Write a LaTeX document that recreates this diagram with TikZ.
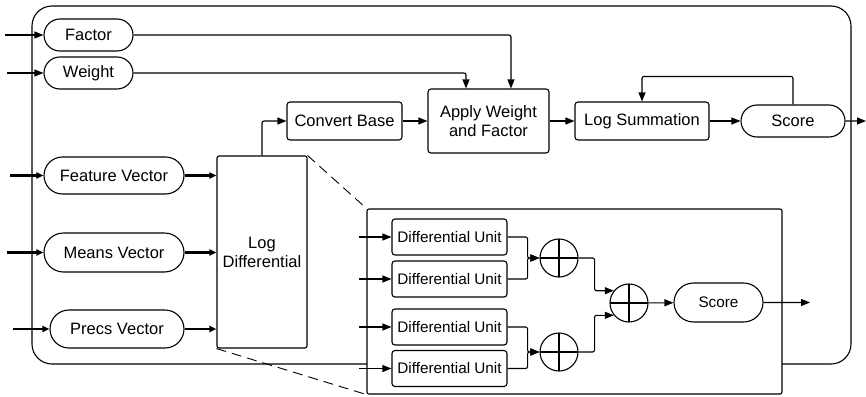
\documentclass[tikz,border=0pt]{standalone}
\usepackage{fontspec}
\setmainfont{Liberation Sans}
\usetikzlibrary{arrows.meta,shapes.misc,calc}
\tikzset{
	pill/.style={draw, rounded rectangle, inner sep=0pt, font=\fontsize{16.5}{19}\selectfont},
	blk/.style={draw, rectangle, rounded corners=3pt, inner sep=0pt, align=center, font=\fontsize{16.5}{19}\selectfont},
	unit/.style={blk, minimum width=115pt, minimum height=36pt, font=\fontsize{15.3}{18}\selectfont},
	adder/.style={draw, circle, minimum size=38pt, inner sep=0pt,
		path picture={\draw (path picture bounding box.north) -- (path picture bounding box.south)
			(path picture bounding box.west) -- (path picture bounding box.east);}},
	wire/.style={draw, line width=1.1pt, rounded corners=2pt, -{Triangle[length=9pt,width=7pt]}},
	fat/.style={wire, line width=2.4pt, -{Triangle[length=7pt,width=6pt]}}
}
\begin{document}
\begin{tikzpicture}[x=1pt, y=-1pt, line width=1.1pt]
			%%%%% START %%%%%
			\useasboundingbox (0,0) rectangle (866,396);
			
			\draw[rounded corners=20pt] (32,6) rectangle (851,364);
			
			% inputs
			\node[pill, minimum width=89pt, minimum height=32pt] (factor) at (88.5,35) {Factor};
			\node[pill, minimum width=89pt, minimum height=32pt] (weight) at (88.5,73) {Weight};
			\node[pill, minimum width=140pt, minimum height=37pt] (feat) at (114,175.5) {Feature Vector};
			\node[pill, minimum width=140pt, minimum height=39pt] (means) at (114,252.5) {Means Vector};
			\node[pill, minimum width=134pt, minimum height=38pt] (precs) at (117,329) {Precs Vector};
			
			\coordinate (inF) at (5,35);
			\coordinate (inW) at (7,73);
			\coordinate (inV) at (10,175.5);
			\coordinate (inM) at (7,252.5);
			\coordinate (inP) at (13,329);
			
			% main chain
			\node[blk, rounded corners=2pt, minimum width=90pt, minimum height=192pt] (logdiff) at (262,252) {Log\\Differential};
			\node[blk, minimum width=115pt, minimum height=38pt] (conv) at (344.5,121) {Convert Base};
			\node[blk, minimum width=121pt, minimum height=64pt] (apply) at (488.5,121) {Apply Weight\\and Factor};
			\node[blk, minimum width=134pt, minimum height=38pt] (logsum) at (642,121) {Log Summation};
			\node[pill, minimum width=104pt, minimum height=32pt] (score) at (793,121) {Score};
			\coordinate (outS) at (866,121);
			
			\draw[wire] (inF) -- (factor);
			\draw[wire] (inW) -- (weight);
			\draw[fat] (inV) -- (feat);
			\draw[fat] (inM) -- (means);
			\draw[fat] (inP) -- (precs);
			\draw[fat] (feat.east) -- (feat.east -| logdiff.west);
			\draw[fat] (means.east) -- (means.east -| logdiff.west);
			\draw[fat] (precs.east) -- (precs.east -| logdiff.west);
			
			\draw[wire] (factor.east) -| ([xshift=22.5pt]apply.north);
			\draw[wire] (weight.east) -| ([xshift=-22.5pt]apply.north);
			\draw[wire] (logdiff.north) |- (conv.west);
			\draw[wire] (conv) -- (apply);
			\draw[wire] (apply) -- (logsum);
			\draw[wire] (logsum) -- (score);
			\draw[wire] (score.north) -- ++(0,-28) -| (logsum.north);
			\draw[wire] (score) -- (outS);
			
			% zoomed detail of the log differential
			\node[draw, fill=white, rounded corners=2pt, inner sep=0pt, minimum width=415pt, minimum height=185pt] (inset) at (574.5,301.5) {};
			\draw[dashed, line width=0.9pt, dash pattern=on 10pt off 6pt] (logdiff.north east) -- (inset.north west);
			\draw[dashed, line width=0.9pt, dash pattern=on 10pt off 6pt] (logdiff.south west) -- (inset.south west);
			
			\node[unit] (du1) at (449.5,237) {Differential Unit};
			\node[unit] (du2) at (449.5,279) {Differential Unit};
			\node[unit] (du3) at (449.5,327) {Differential Unit};
			\node[unit] (du4) at (449.5,368.5) {Differential Unit};
			\foreach \d in {du1,du2,du3,du4}
				\draw[wire] ($(\d.west)+(-32,0)$) -- (\d.west);
			
			\node[adder] (sumA) at (559,258) {};
			\node[adder] (sumB) at (559,352) {};
			\node[adder] (sumC) at (629,303) {};
			\node[pill, minimum width=89pt, minimum height=39pt, font=\fontsize{15.3}{18}\selectfont] (score2) at (718.5,302.5) {Score};
			\coordinate (outS2) at (810,302.5);
			
			\draw[wire] (du1.east) -- ++(20,0) |- (sumA.west);
			\draw[wire] (du2.east) -- ++(20,0) |- (sumA.west);
			\draw[wire] (du3.east) -- ++(20,0) |- (sumB.west);
			\draw[wire] (du4.east) -- ++(20,0) |- (sumB.west);
			\draw[wire] (sumA.east) -- ++(16,0) |- (sumC.141);
			\draw[wire] (sumB.east) -- ++(16,0) |- (sumC.219);
			\draw[wire] (sumC) -- (score2);
			\draw[wire] (score2) -- (outS2);
			
			%%%%% END %%%%%
\end{tikzpicture}
\end{document}
